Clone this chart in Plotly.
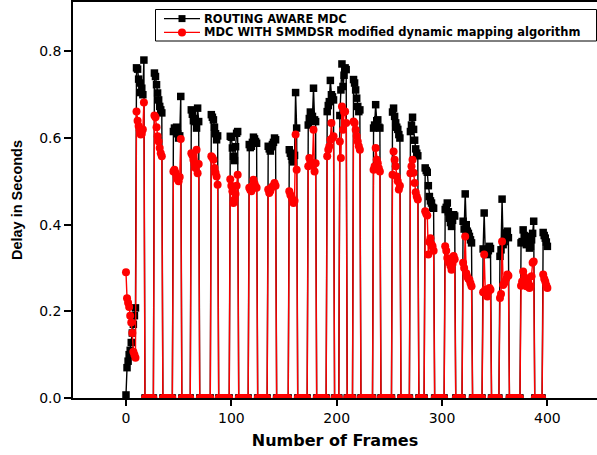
import plotly.graph_objects as go

# ---------------- data ----------------
ramp_frames = [0, 1, 2, 3, 4, 5, 6, 7, 8, 9]
black_ramp = [0.007, 0.07, 0.085, 0.10, 0.11, 0.128, 0.15, 0.17, 0.19, 0.208]
red_ramp = [0.29, 0.23, 0.22, 0.21, 0.19, 0.174, 0.15, 0.107, 0.10, 0.093]

# first frame of every burst of non-zero delays
cluster_start = [10, 27, 45, 62, 81, 99, 117, 135, 155, 173, 191, 203,
                 216, 235, 253, 270, 284, 303, 320, 339, 355, 375, 396]

black_clusters = [
    [0.762, 0.759, 0.736, 0.727, 0.705, 0.715, 0.70, 0.78],
    [0.75, 0.742, 0.723, 0.704, 0.688, 0.673, 0.665, 0.658],
    [0.615, 0.623, 0.62, 0.625, 0.61, 0.60, 0.605, 0.696],
    [0.665, 0.655, 0.64, 0.645, 0.638, 0.623, 0.669, 0.638],
    [0.654, 0.648, 0.642, 0.625, 0.61, 0.596, 0.605],
    [0.604, 0.602, 0.577, 0.558, 0.548, 0.58, 0.611, 0.615],
    [0.585, 0.578, 0.581, 0.59, 0.602, 0.598, 0.592, 0.588],
    [0.581, 0.575, 0.57, 0.58, 0.585, 0.59, 0.6, 0.596],
    [0.573, 0.565, 0.558, 0.55, 0.545, 0.56, 0.705, 0.623],
    [0.63, 0.645, 0.66, 0.642, 0.65, 0.715, 0.642, 0.638],
    [0.661, 0.675, 0.684, 0.733, 0.70, 0.695, 0.688],
    [0.652, 0.711, 0.771, 0.719, 0.745, 0.762, 0.758],
    [0.735, 0.727, 0.711, 0.692, 0.673, 0.661, 0.665],
    [0.623, 0.63, 0.677, 0.64, 0.642, 0.625, 0.623],
    [0.66, 0.669, 0.65, 0.635, 0.625, 0.62, 0.608, 0.6],
    [0.615, 0.63, 0.648, 0.62, 0.595, 0.575, 0.565, 0.559],
    [0.531, 0.525, 0.521, 0.49, 0.465, 0.455, 0.45, 0.44, 0.438],
    [0.435, 0.44, 0.45, 0.43, 0.415, 0.405, 0.396, 0.41, 0.423, 0.42],
    [0.408, 0.39, 0.471, 0.40, 0.385, 0.38, 0.373, 0.365, 0.358],
    [0.344, 0.427, 0.34, 0.335, 0.331, 0.34, 0.35, 0.345],
    [0.327, 0.342, 0.459, 0.354, 0.361, 0.375, 0.381, 0.385, 0.37],
    [0.358, 0.361, 0.388, 0.375, 0.369, 0.354, 0.373, 0.365, 0.346, 0.35, 0.365, 0.38, 0.408],
    [0.382, 0.375, 0.369, 0.36, 0.35],
]

red_clusters = [
    [0.661, 0.64, 0.628, 0.618, 0.608, 0.61, 0.62, 0.682],
    [0.652, 0.648, 0.625, 0.604, 0.592, 0.577, 0.565, 0.558],
    [0.523, 0.527, 0.52, 0.511, 0.505, 0.50, 0.51, 0.598],
    [0.565, 0.56, 0.55, 0.54, 0.531, 0.573, 0.519, 0.54],
    [0.558, 0.555, 0.55, 0.531, 0.52, 0.511, 0.492],
    [0.505, 0.49, 0.477, 0.45, 0.458, 0.471, 0.49, 0.515],
    [0.485, 0.48, 0.477, 0.49, 0.504, 0.495, 0.488, 0.485],
    [0.481, 0.473, 0.478, 0.485, 0.488, 0.49, 0.496, 0.49],
    [0.477, 0.469, 0.465, 0.458, 0.45, 0.455, 0.608, 0.527],
    [0.535, 0.554, 0.545, 0.538, 0.542, 0.619, 0.523, 0.542],
    [0.558, 0.573, 0.581, 0.596, 0.635, 0.6, 0.604],
    [0.592, 0.554, 0.673, 0.619, 0.66, 0.661, 0.635],
    [0.638, 0.635, 0.619, 0.605, 0.592, 0.581, 0.573],
    [0.527, 0.535, 0.577, 0.55, 0.542, 0.53, 0.523],
    [0.515, 0.569, 0.55, 0.535, 0.511, 0.5, 0.481, 0.49],
    [0.519, 0.535, 0.55, 0.52, 0.496, 0.475, 0.465, 0.458],
    [0.431, 0.425, 0.421, 0.331, 0.36, 0.369, 0.355, 0.35, 0.34],
    [0.35, 0.34, 0.323, 0.315, 0.312, 0.305, 0.296, 0.31, 0.328, 0.32],
    [0.312, 0.30, 0.373, 0.288, 0.28, 0.275, 0.273, 0.265, 0.258],
    [0.244, 0.331, 0.25, 0.24, 0.234, 0.245, 0.254, 0.25],
    [0.231, 0.24, 0.361, 0.261, 0.265, 0.269, 0.275, 0.285, 0.282],
    [0.259, 0.269, 0.292, 0.28, 0.265, 0.258, 0.273, 0.265, 0.254, 0.258, 0.281, 0.312, 0.315],
    [0.285, 0.275, 0.269, 0.26, 0.254],
]

# runs of frames (first, last) where the delay reads 0
zero_runs = [(18, 26), (35, 44), (53, 61), (70, 80), (88, 98), (107, 116),
             (125, 134), (143, 154), (163, 172), (181, 190), (198, 202),
             (210, 215), (223, 234), (242, 252), (261, 269), (278, 283),
             (293, 302), (313, 319), (329, 338), (347, 354), (364, 374),
             (388, 395)]

series_names = ["ROUTING AWARE MDC",
                "MDC WITH SMMDSR modified dynamic mapping algorithm"]
series_colors = ["#000000", "#ff0000"]


def build(ramp, clusters):
    pts = list(zip(ramp_frames, ramp))
    for s, vals in zip(cluster_start, clusters):
        pts += [(s + i, v) for i, v in enumerate(vals)]
    for a, b in zero_runs:
        pts += [(f, 0.0) for f in range(a, b + 1)]
    pts.sort(key=lambda p: p[0])
    return [p[0] for p in pts], [p[1] for p in pts]


bx, by = build(black_ramp, black_clusters)
rx, ry = build(red_ramp, red_clusters)

fig = go.Figure()
fig.add_trace(go.Scatter(
    x=bx, y=by, mode="lines+markers", name=series_names[0], showlegend=False,
    line=dict(color=series_colors[0], width=1.4),
    marker=dict(symbol="square", size=7.5, color=series_colors[0]),
))
fig.add_trace(go.Scatter(
    x=rx, y=ry, mode="lines+markers", name=series_names[1], showlegend=False,
    line=dict(color=series_colors[1], width=1.4),
    marker=dict(symbol="circle", size=8, color=series_colors[1]),
))

# ---- legend box drawn in paper coordinates (plot area: 524 x 396 px) ----
W, H = 524.0, 396.0
def px_x(p):
    return (p - 73) / W
def px_y(p):
    return 1 - (p - 2) / H

shapes = [dict(type="rect", xref="paper", yref="paper",
               x0=px_x(155.5), x1=px_x(596.5), y0=px_y(41), y1=px_y(9.5),
               line=dict(color="#000000", width=1), fillcolor="white", layer="above")]
annotations = []
row_y = [18.6, 32.4]
for i in range(2):
    yy = px_y(row_y[i])
    shapes.append(dict(type="line", xref="paper", yref="paper",
                       x0=px_x(164), x1=px_x(200), y0=yy, y1=yy,
                       line=dict(color=series_colors[i], width=1.4), layer="above"))
    half = 3.5 if i == 0 else 4.0
    shapes.append(dict(type="rect" if i == 0 else "circle",
                       xref="paper", yref="paper",
                       xsizemode="pixel", ysizemode="pixel",
                       xanchor=px_x(182), yanchor=yy,
                       x0=-half, x1=half, y0=-half, y1=half,
                       line=dict(width=0), fillcolor=series_colors[i], layer="above"))
    annotations.append(dict(xref="paper", yref="paper", x=px_x(203), y=yy,
                            xanchor="left", yanchor="middle", showarrow=False,
                            borderpad=0,
                            text="<b>" + series_names[i] + "</b>",
                            font=dict(family="DejaVu Sans", size=11.5, color="#000000")))

tick_font = dict(family="DejaVu Sans", size=14, color="#000000")
fig.update_layout(
    width=597, height=455,
    margin=dict(l=73, r=0, t=2, b=57),
    paper_bgcolor="white", plot_bgcolor="white",
    shapes=shapes, annotations=annotations,
    xaxis=dict(
        range=[-50.3, 447.1], tickvals=[0, 100, 200, 300, 400],
        showline=True, linecolor="#000000", linewidth=1.5, mirror=True,
        ticks="outside", ticklen=6, tickwidth=1.5, tickcolor="#000000",
        tickfont=tick_font, showgrid=False, zeroline=False,
        title=dict(text="<b>Number of Frames</b>",
                   font=dict(family="DejaVu Sans", size=16, color="#000000"),
                   standoff=10),
    ),
    yaxis=dict(
        range=[0, 0.914], tickvals=[0, 0.2, 0.4, 0.6, 0.8], tickformat=".1f",
        showline=True, linecolor="#000000", linewidth=1.5,
        ticks="outside", ticklen=7, tickwidth=1.5, tickcolor="#000000",
        tickfont=tick_font, showgrid=False, zeroline=False,
        title=dict(text="<b>Delay in Seconds</b>",
                   font=dict(family="Liberation Sans", size=14.5, color="#000000"),
                   standoff=13),
    ),
)

fig.write_html("out.html", config={"displayModeBar": False},
               post_script="document.body.style.margin='0';document.body.style.overflow='hidden';")
